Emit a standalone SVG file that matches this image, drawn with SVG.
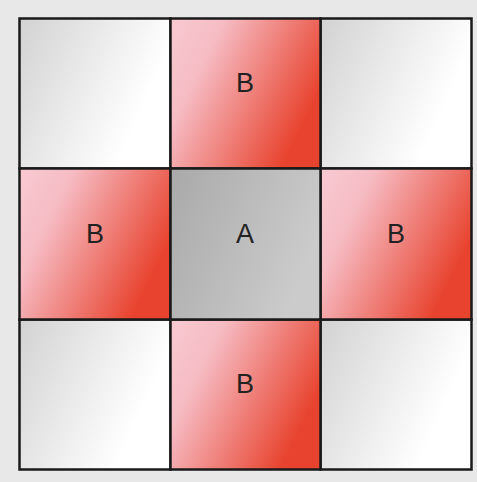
<svg xmlns="http://www.w3.org/2000/svg" width="477" height="482" viewBox="0 0 477 482">
<defs>
<linearGradient id="gRed" x1="0" y1="0.1" x2="1" y2="0.6">
<stop offset="0" stop-color="#f8c8d0"/>
<stop offset="0.25" stop-color="#f6bcc4"/>
<stop offset="0.95" stop-color="#e8432e"/>
</linearGradient>
<linearGradient id="gGray" x1="0" y1="0" x2="1" y2="0.45">
<stop offset="0" stop-color="#d2d2d2"/>
<stop offset="0.9" stop-color="#ffffff"/>
</linearGradient>
<linearGradient id="gA" x1="0" y1="0" x2="1" y2="0.4">
<stop offset="0" stop-color="#a9a9a9"/>
<stop offset="1" stop-color="#cbcbcb"/>
</linearGradient>
<style>
.c{stroke:#1a1a1a;stroke-width:2.5}
.r{fill:url(#gRed)}
.g{fill:url(#gGray)}
.t{font-family:"Liberation Sans",Arial,sans-serif;font-size:27px;fill:#222;text-anchor:middle}
</style>
</defs>
<rect width="477" height="482" fill="#e8e8e8"/>
<g id="c00"><rect class="c g" x="19.5" y="18.5" width="151" height="150"/></g>
<g id="c02"><rect class="c g" x="320.5" y="18.5" width="151" height="150"/></g>
<g id="c20"><rect class="c g" x="19.5" y="319.5" width="151" height="150"/></g>
<g id="c22"><rect class="c g" x="320.5" y="319.5" width="151" height="150"/></g>
<g id="b-top"><rect class="c r" x="170.5" y="18.5" width="150" height="150"/><text class="t" x="245" y="92">B</text></g>
<g id="b-left"><rect class="c r" x="19.5" y="168.5" width="151" height="151"/><text class="t" x="95" y="243">B</text></g>
<g id="b-right"><rect class="c r" x="320.5" y="168.5" width="151" height="151"/><text class="t" x="396" y="243">B</text></g>
<g id="b-bottom"><rect class="c r" x="170.5" y="319.5" width="150" height="150"/><text class="t" x="245" y="393">B</text></g>
<g id="a"><rect class="c" fill="url(#gA)" x="170.5" y="168.5" width="150" height="151"/><text class="t" x="245" y="243">A</text></g>
</svg>
